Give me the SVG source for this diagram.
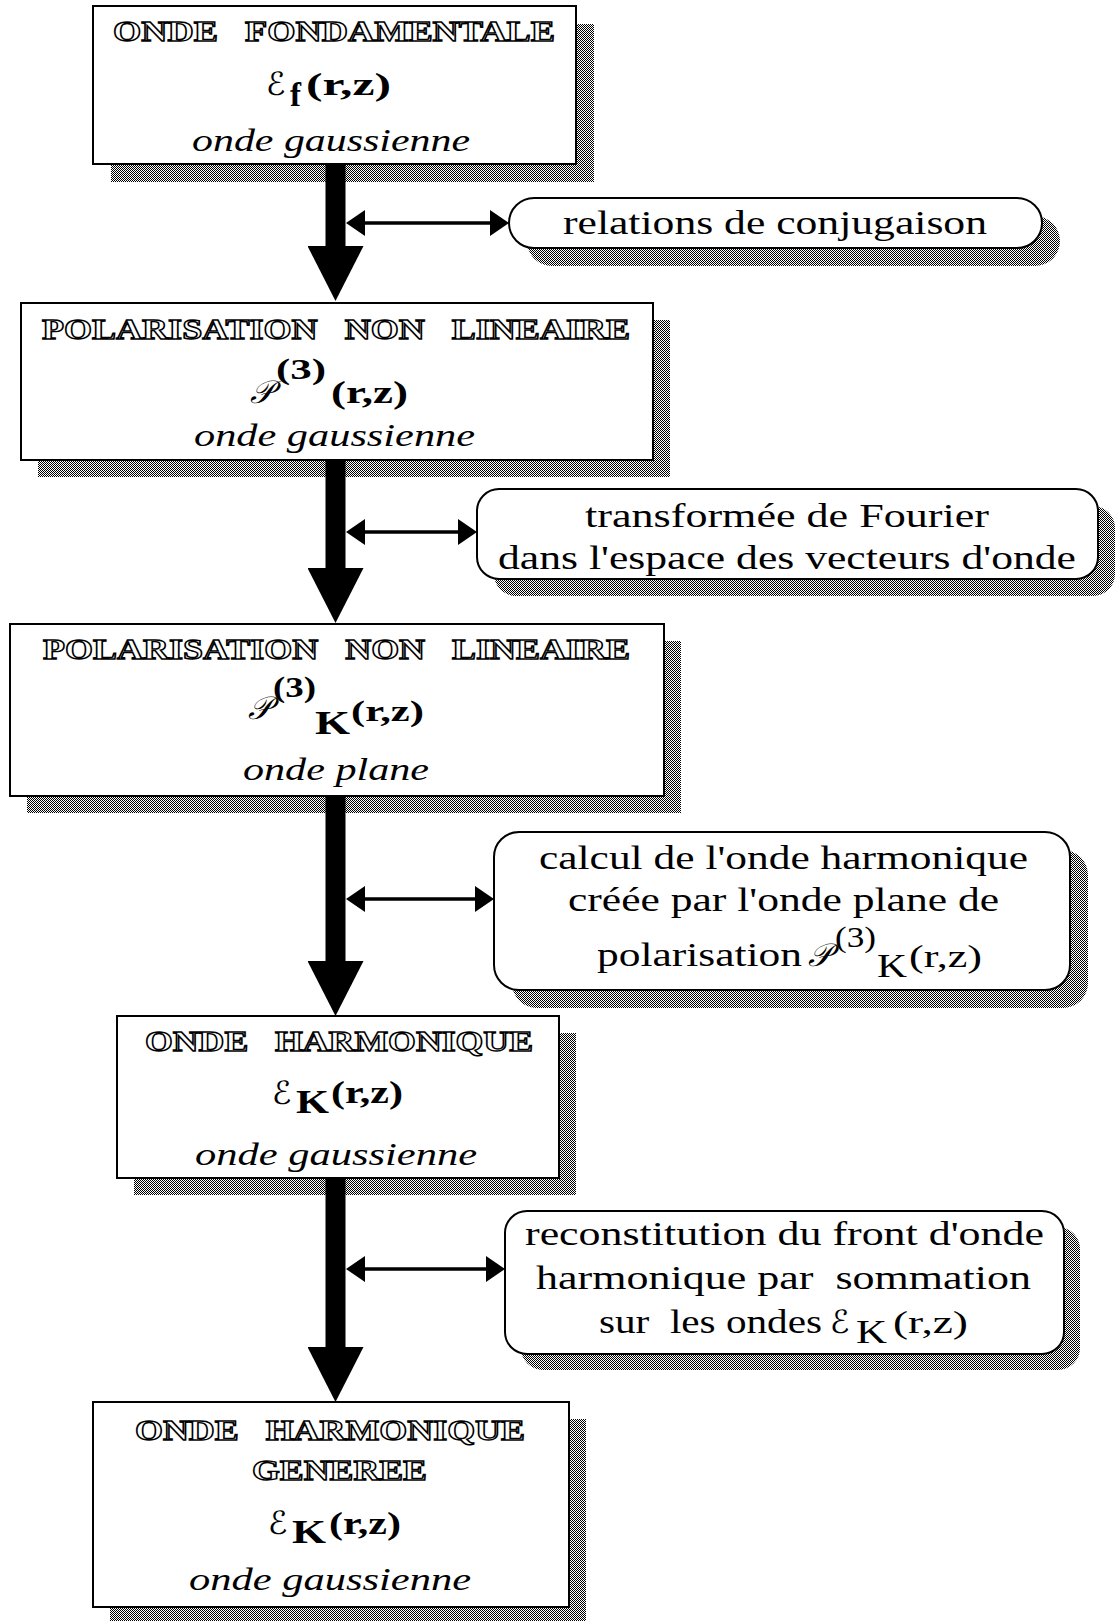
<svg xmlns="http://www.w3.org/2000/svg" width="1115" height="1621" viewBox="0 0 1115 1621">
<defs>
<pattern id="dither" width="2" height="2" patternUnits="userSpaceOnUse">
<rect width="2" height="2" fill="#fff"/>
<rect width="1" height="1" fill="#000"/>
<rect x="1" y="1" width="1" height="1" fill="#000"/>
</pattern>
<marker id="bighead" markerUnits="userSpaceOnUse" viewBox="0 0 56 56" markerWidth="56" markerHeight="56" refX="0" refY="28" orient="auto">
<path d="M0,0 L55,28 L0,56 Z" fill="#000"/>
</marker>
<marker id="sm" markerUnits="userSpaceOnUse" viewBox="0 0 19 26" markerWidth="19" markerHeight="26" refX="0" refY="13" orient="auto-start-reverse">
<path d="M0,0 L19,13 L0,26 Z" fill="#000"/>
</marker>
</defs>
<style>
.shadow{fill:url(#dither);}
.box{fill:#fff;stroke:#000;stroke-width:2;}
.hd{font-family:"Liberation Serif",serif;font-weight:bold;font-size:30px;fill:#fff;stroke:#000;stroke-width:1.4px;}
.it{font-family:"Liberation Serif",serif;font-style:italic;font-size:32px;fill:#000;}
.tx{font-family:"Liberation Serif",serif;font-size:34px;fill:#000;}
.bf{font-family:"Liberation Serif",serif;font-weight:bold;fill:#000;}
.rm{font-family:"Liberation Serif",serif;fill:#000;}
.sc{font-family:"DejaVu Serif","DejaVu Sans","Noto Sans",serif;font-style:italic;fill:#000;}
.shaft{stroke:#000;stroke-width:20;fill:none;}
.link{stroke:#000;stroke-width:3.5;fill:none;}
</style>
<rect width="1115" height="1621" fill="#fff"/>

<g id="node1">
<rect class="shadow" x="111" y="24" width="483" height="158"/>
<rect class="box" x="93" y="6" width="483" height="158"/>
<text class="hd" x="113" y="41" textLength="442" lengthAdjust="spacingAndGlyphs" xml:space="preserve">ONDE   FONDAMENTALE</text>
<text class="sc" x="266" y="95" font-size="32">ℰ</text>
<text class="bf" x="290" y="106" font-size="33">f</text>
<text class="bf" x="306" y="95" font-size="31" textLength="85" lengthAdjust="spacingAndGlyphs">(r,z)</text>
<text class="it" x="192" y="151" textLength="278" lengthAdjust="spacingAndGlyphs">onde gaussienne</text>
</g>

<g id="node2">
<rect class="shadow" x="38" y="320" width="632" height="157"/>
<rect class="box" x="21" y="303" width="632" height="157"/>
<text class="hd" x="42" y="339" textLength="588" lengthAdjust="spacingAndGlyphs" xml:space="preserve">POLARISATION   NON   LINEAIRE</text>
<text class="sc" x="250" y="403" font-size="32">𝒫</text>
<text class="bf" x="276" y="379" font-size="29" textLength="50" lengthAdjust="spacingAndGlyphs">(3)</text>
<text class="bf" x="331" y="403" font-size="31" textLength="77" lengthAdjust="spacingAndGlyphs">(r,z)</text>
<text class="it" x="194" y="446" textLength="281" lengthAdjust="spacingAndGlyphs">onde gaussienne</text>
</g>

<g id="node3">
<rect class="shadow" x="27" y="641" width="654" height="172"/>
<rect class="box" x="10" y="624" width="654" height="172"/>
<text class="hd" x="43" y="659" textLength="587" lengthAdjust="spacingAndGlyphs" xml:space="preserve">POLARISATION   NON   LINEAIRE</text>
<text class="sc" x="248" y="719" font-size="32">𝒫</text>
<text class="bf" x="273" y="697" font-size="29" textLength="43" lengthAdjust="spacingAndGlyphs">(3)</text>
<text class="bf" x="315" y="734" font-size="33" textLength="35" lengthAdjust="spacingAndGlyphs">K</text>
<text class="bf" x="351" y="721" font-size="29" textLength="73" lengthAdjust="spacingAndGlyphs">(r,z)</text>
<text class="it" x="243" y="780" textLength="186" lengthAdjust="spacingAndGlyphs">onde plane</text>
</g>

<g id="node4">
<rect class="shadow" x="134" y="1033" width="442" height="162"/>
<rect class="box" x="117" y="1016" width="442" height="162"/>
<text class="hd" x="145" y="1051" textLength="388" lengthAdjust="spacingAndGlyphs" xml:space="preserve">ONDE   HARMONIQUE</text>
<text class="sc" x="272" y="1104" font-size="32">ℰ</text>
<text class="bf" x="296" y="1113" font-size="33" textLength="33" lengthAdjust="spacingAndGlyphs">K</text>
<text class="bf" x="331" y="1103" font-size="31" textLength="72" lengthAdjust="spacingAndGlyphs">(r,z)</text>
<text class="it" x="195" y="1165" textLength="282" lengthAdjust="spacingAndGlyphs">onde gaussienne</text>
</g>

<g id="node5">
<rect class="shadow" x="110" y="1419" width="476" height="205"/>
<rect class="box" x="93" y="1402" width="476" height="205"/>
<text class="hd" x="135" y="1440" textLength="390" lengthAdjust="spacingAndGlyphs" xml:space="preserve">ONDE   HARMONIQUE</text>
<text class="hd" x="252" y="1480" textLength="175" lengthAdjust="spacingAndGlyphs">GENEREE</text>
<text class="sc" x="268" y="1534" font-size="32">ℰ</text>
<text class="bf" x="292" y="1543" font-size="33" textLength="34" lengthAdjust="spacingAndGlyphs">K</text>
<text class="bf" x="329" y="1534" font-size="31" textLength="72" lengthAdjust="spacingAndGlyphs">(r,z)</text>
<text class="it" x="189" y="1590" textLength="282" lengthAdjust="spacingAndGlyphs">onde gaussienne</text>
</g>

<g id="pill1">
<rect class="shadow" x="527" y="216" width="533" height="50" rx="25"/>
<rect class="box" x="509" y="198" width="533" height="50" rx="25"/>
<text class="tx" x="563" y="234" textLength="424" lengthAdjust="spacingAndGlyphs">relations de conjugaison</text>
</g>

<g id="pill2">
<rect class="shadow" x="494" y="506" width="621" height="90" rx="22"/>
<rect class="box" x="477" y="489" width="621" height="90" rx="22"/>
<text class="tx" x="585" y="527" textLength="404" lengthAdjust="spacingAndGlyphs">transformée de Fourier</text>
<text class="tx" x="498" y="569" textLength="578" lengthAdjust="spacingAndGlyphs">dans l'espace des vecteurs d'onde</text>
</g>

<g id="pill3">
<rect class="shadow" x="512" y="850" width="576" height="158" rx="25"/>
<rect class="box" x="494" y="832" width="576" height="158" rx="25"/>
<text class="tx" x="539" y="869" textLength="489" lengthAdjust="spacingAndGlyphs">calcul de l'onde harmonique</text>
<text class="tx" x="568" y="911" textLength="431" lengthAdjust="spacingAndGlyphs">créée par l'onde plane de</text>
<text class="tx" x="597" y="966" textLength="205" lengthAdjust="spacingAndGlyphs">polarisation</text>
<text class="sc" x="808" y="966" font-size="32">𝒫</text>
<text class="rm" x="835" y="947" font-size="30" textLength="41" lengthAdjust="spacingAndGlyphs">(3)</text>
<text class="rm" x="877" y="977" font-size="33" textLength="30" lengthAdjust="spacingAndGlyphs">K</text>
<text class="rm" x="909" y="967" font-size="31" textLength="73" lengthAdjust="spacingAndGlyphs">(r,z)</text>
</g>

<g id="pill4">
<rect class="shadow" x="521" y="1227" width="559" height="143" rx="22"/>
<rect class="box" x="505" y="1211" width="559" height="143" rx="22"/>
<text class="tx" x="525" y="1245" textLength="519" lengthAdjust="spacingAndGlyphs">reconstitution du front d'onde</text>
<text class="tx" x="536" y="1289" textLength="495" lengthAdjust="spacingAndGlyphs" xml:space="preserve">harmonique par  sommation</text>
<text class="tx" x="599" y="1333" textLength="223" lengthAdjust="spacingAndGlyphs" xml:space="preserve">sur  les ondes</text>
<text class="sc" x="830" y="1333" font-size="32">ℰ</text>
<text class="rm" x="856" y="1343" font-size="33" textLength="31" lengthAdjust="spacingAndGlyphs">K</text>
<text class="rm" x="893" y="1333" font-size="31" textLength="75" lengthAdjust="spacingAndGlyphs">(r,z)</text>
</g>

<g id="connectors">
<line class="shaft" x1="335.5" y1="164" x2="335.5" y2="246" marker-end="url(#bighead)"/>
<line class="shaft" x1="335.5" y1="460" x2="335.5" y2="568" marker-end="url(#bighead)"/>
<line class="shaft" x1="335.5" y1="796" x2="335.5" y2="961" marker-end="url(#bighead)"/>
<line class="shaft" x1="335.5" y1="1178" x2="335.5" y2="1347" marker-end="url(#bighead)"/>
<line class="link" x1="365" y1="223" x2="490" y2="223" marker-start="url(#sm)" marker-end="url(#sm)"/>
<line class="link" x1="365" y1="532" x2="458" y2="532" marker-start="url(#sm)" marker-end="url(#sm)"/>
<line class="link" x1="365" y1="899" x2="475" y2="899" marker-start="url(#sm)" marker-end="url(#sm)"/>
<line class="link" x1="365" y1="1269" x2="486" y2="1269" marker-start="url(#sm)" marker-end="url(#sm)"/>
</g>
</svg>
